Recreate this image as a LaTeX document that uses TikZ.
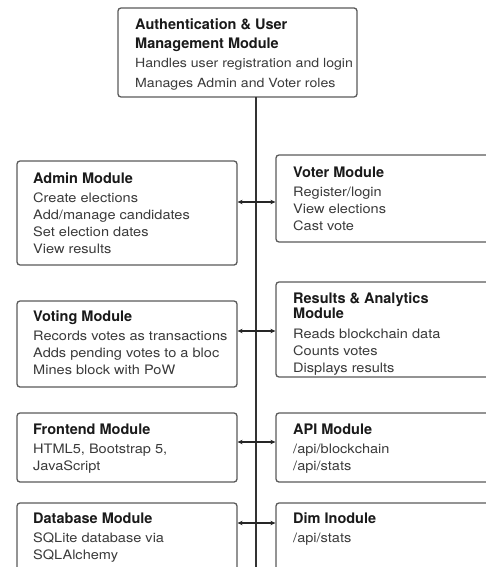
\documentclass[tikz,border=0pt]{standalone}
\usepackage{fontspec}
\setmainfont{TeX Gyre Heros}
\newfontfamily\bodyfont[FakeStretch=1.12]{TeX Gyre Heros}
\usetikzlibrary{arrows.meta}
\definecolor{boxline}{HTML}{5A5A5A}
\definecolor{titlecol}{HTML}{1A1A1A}
\definecolor{bodycol}{HTML}{3A3A3A}
\tikzset{
  modbox/.style={draw=boxline, line width=1.3pt, rounded corners=3pt, fill=white},
  modtext/.style={anchor=north west, inner sep=0pt, align=left, text=bodycol,
    font=\bodyfont\fontsize{13}{17}\selectfont},
  link/.style={line width=1.1pt, draw=black!85, -{Stealth[length=5pt,width=4.5pt]}},
  spine/.style={line width=1.2pt, draw=black!80}
}
\newcommand{\mtitle}[1]{{\color{titlecol}\normalfont\bfseries\fontsize{14.5}{17}\selectfont #1}}
\begin{document}
\begin{tikzpicture}[x=1pt,y=-1pt]
\useasboundingbox (0,0) rectangle (486,567);
\clip (0,0) rectangle (486,567);
% boxes
\draw[modbox] (118,8) rectangle (357,97);
\coordinate (authS) at (256,97);
\node[modtext, font=\bodyfont\fontsize{12.6}{20}\selectfont] (auth) at (135,18.5) {\mtitle{Authentication \& User}\\[-1pt]\mtitle{Management Module}\\[-1pt]Handles user registration and login\\Manages Admin and Voter roles};

\draw[modbox] (17,161) rectangle (237,265);
\node[modtext] (admin) at (33,172.5) {\mtitle{Admin Module}\\[2pt]Create elections\\Add/manage candidates\\Set election dates\\View results};

\draw[modbox] (276,155) rectangle (500,242);
\node[modtext] (voter) at (293,166.5) {\mtitle{Voter Module}\\[2pt]Register/login\\View elections\\Cast vote};

\draw[modbox] (17,301) rectangle (237,387);
\node[modtext] (voting) at (33,310.5) {\mtitle{Voting Module}\\[2pt]Records votes as transactions\\Adds pending votes to a bloc\\Mines block with PoW};

\draw[modbox] (276,282) rectangle (500,377);
\node[modtext] (results) at (293,292.5) {\mtitle{Results \& Analytics}\\[-2pt]\mtitle{Module}\\[3pt]Reads blockchain data\\Counts votes\\Displays results};

\draw[modbox] (17,413) rectangle (237,482);
\node[modtext] (frontend) at (33,423.5) {\mtitle{Frontend Module}\\[2pt]HTML5, Bootstrap 5,\\JavaScript};

\draw[modbox] (276,413) rectangle (500,482);
\node[modtext] (api) at (293,423.5) {\mtitle{API Module}\\[2pt]/api/blockchain\\/api/stats};

\draw[modbox] (17,503) rectangle (237,620);
\node[modtext] (database) at (33,512.5) {\mtitle{Database Module}\\[2pt]SQLite database via\\SQLAlchemy};

\draw[modbox] (276,503) rectangle (500,620);
\node[modtext] (dim) at (293,512.5) {\mtitle{Dim Inodule}\\[2pt]/api/stats};

% spine
\coordinate (spineEnd) at (256,580);
\draw[spine] (authS) -- (spineEnd);
% connectors
\foreach \yy/\l/\r in {202/a1/b1, 331/a2/b2, 442/a3/b3, 523/a4/b4}{
  \coordinate (\l) at (237.6,\yy);
  \coordinate (\r) at (275.4,\yy);
  \coordinate (m\l) at (256,\yy);
  \draw[link] (m\l) -- (\l);
  \draw[link] (m\l) -- (\r);
}
\end{tikzpicture}
\end{document}
